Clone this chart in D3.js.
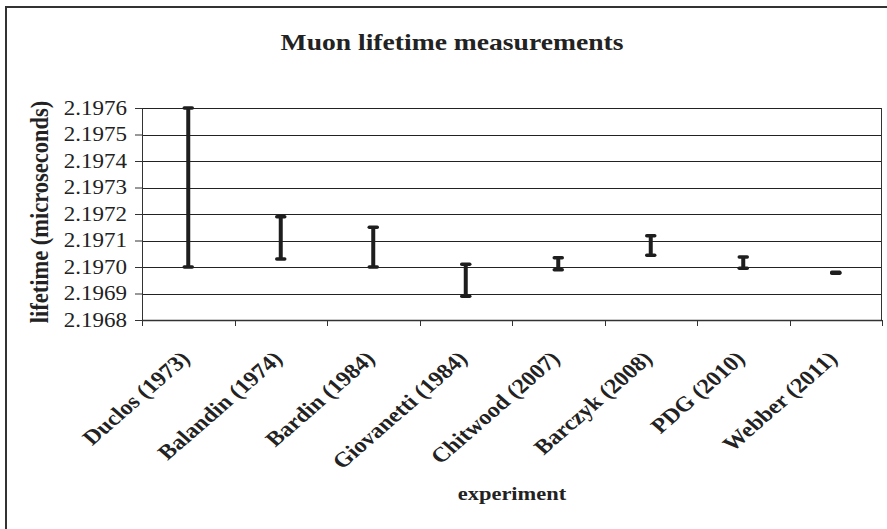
<!DOCTYPE html>
<html lang="en">
<head>
<meta charset="UTF-8">
<title>Muon lifetime measurements</title>
<script src="https://cdn.jsdelivr.net/npm/d3@7"></script>
<style>
  body { margin: 0; background: #fff; }
  svg { display: block; font-family: "Liberation Serif", "Times New Roman", serif; }
</style>
</head>
<body>
<div id="chart"></div>
<script>
// experiments and the ends of each error bar (microseconds)
var experiments = ["Duclos (1973)", "Balandin (1974)", "Bardin (1984)", "Giovanetti (1984)",
    "Chitwood (2007)", "Barczyk (2008)", "PDG (2010)", "Webber (2011)"];
var lows  = [2.19700, 2.19703, 2.19700, 2.19689, 2.196990, 2.197044, 2.196995, 2.196976];
var highs = [2.19760, 2.19719, 2.19715, 2.19701, 2.197035, 2.197118, 2.197038, 2.196980];
var yTicks = [2.1968, 2.1969, 2.1970, 2.1971, 2.1972, 2.1973, 2.1974, 2.1975, 2.1976];

var W = 887, H = 529;
var margin = { top: 108, right: 5, bottom: 209, left: 142 },
    width = W - margin.left - margin.right,
    height = H - margin.top - margin.bottom;

// the original picture is a bit wider than it is tall, text included
var SX = 1.15;

var svg = d3.select("#chart").append("svg")
    .attr("width", W)
    .attr("height", H);

// outer frame (right and bottom edges are cut off in the original)
svg.append("rect")
    .attr("x", 6).attr("y", 7)
    .attr("width", W + 10).attr("height", H + 10)
    .attr("fill", "none")
    .attr("stroke", "#333")
    .attr("stroke-width", 2);

var g = svg.append("g")
    .attr("transform", "translate(" + margin.left + "," + margin.top + ")");

var x = d3.scaleBand()
    .domain(experiments)
    .range([0, width]);

var y = d3.scaleLinear()
    .domain([2.1968, 2.1976])
    .range([height, 0]);

// gridlines
g.selectAll(".grid")
    .data(yTicks)
    .enter().append("line")
    .attr("x1", 0).attr("x2", width)
    .attr("y1", function (d) { return Math.round(y(d)) + 0.5; })
    .attr("y2", function (d) { return Math.round(y(d)) + 0.5; })
    .attr("stroke", "#222")
    .attr("stroke-width", 1);

// right edge of plot
g.append("line")
    .attr("x1", width - 0.5).attr("x2", width - 0.5)
    .attr("y1", 0).attr("y2", height)
    .attr("stroke", "#333");

// Y axis
var yAxis = g.append("g")
    .call(d3.axisLeft(y).tickValues(yTicks).tickFormat(d3.format(".4f")).tickSize(7).tickPadding(0));
yAxis.select(".domain").attr("stroke", "#333");
yAxis.selectAll("line").attr("stroke", "#333");
yAxis.selectAll("text")
    .attr("x", null)
    .attr("transform", "translate(-15,0)scale(" + SX + ",1)")
    .style("font-family", "Liberation Serif, serif")
    .style("font-size", "20px")
    .attr("fill", "#222");

// X axis: ticks on band boundaries
var xAxis = g.append("g")
    .attr("transform", "translate(0," + height + ")");
xAxis.append("line")
    .attr("x1", 0).attr("x2", width)
    .attr("y1", 0.5).attr("y2", 0.5)
    .attr("stroke", "#333").attr("stroke-width", 1.5);
var bounds = experiments.map(function (d) { return x(d); }).concat([width]);
xAxis.selectAll(".xt")
    .data(bounds)
    .enter().append("line")
    .attr("x1", function (d) { return Math.round(d) + 0.5; })
    .attr("x2", function (d) { return Math.round(d) + 0.5; })
    .attr("y1", 0).attr("y2", 6)
    .attr("stroke", "#333");

// category labels, rotated
xAxis.selectAll(".xl")
    .data(experiments)
    .enter().append("text")
    .attr("transform", function (d) {
        return "translate(" + (x(d) + x.bandwidth() / 2 + 3) + ",40)scale(" + SX + ",1)rotate(-45)";
    })
    .attr("text-anchor", "end")
    .style("font-size", "21px")
    .style("font-weight", "bold")
    .attr("fill", "#222")
    .text(function (d) { return d; });

// error bars
var bars = g.selectAll(".bar")
    .data(experiments)
    .enter().append("g")
    .attr("transform", function (d) { return "translate(" + (x(d) + x.bandwidth() / 2) + ",0)"; });

bars.append("line")
    .attr("y1", function (d, i) { return y(highs[i]); })
    .attr("y2", function (d, i) { return y(lows[i]); })
    .attr("stroke", "#1e1e1e")
    .attr("stroke-width", 4);

bars.selectAll(".cap")
    .data(function (d, i) { return [lows[i], highs[i]]; })
    .enter().append("line")
    .attr("x1", -4).attr("x2", 4)
    .attr("y1", function (d) { return y(d); })
    .attr("y2", function (d) { return y(d); })
    .attr("stroke", "#1e1e1e")
    .attr("stroke-width", 3.5)
    .attr("stroke-linecap", "round");

// title and axis titles
svg.append("text")
    .attr("transform", "translate(452,50)scale(" + SX + ",1)")
    .attr("text-anchor", "middle")
    .style("font-size", "24px")
    .style("font-weight", "bold")
    .attr("fill", "#222")
    .text("Muon lifetime measurements");

svg.append("text")
    .attr("transform", "translate(48,212)scale(" + SX + ",1)rotate(-90)")
    .attr("text-anchor", "middle")
    .style("font-size", "22.5px")
    .style("font-weight", "bold")
    .attr("fill", "#222")
    .text("lifetime (microseconds)");

svg.append("text")
    .attr("transform", "translate(512,500)scale(" + SX + ",1)")
    .attr("text-anchor", "middle")
    .style("font-size", "19.5px")
    .style("font-weight", "bold")
    .attr("fill", "#222")
    .text("experiment");
</script>
</body>
</html>
